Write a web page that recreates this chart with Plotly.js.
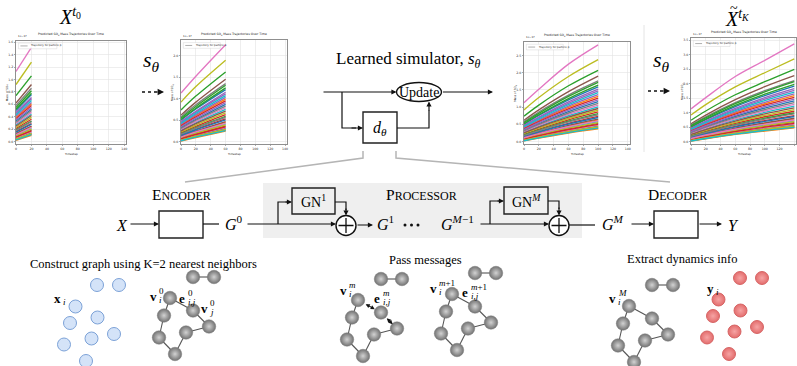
<!DOCTYPE html>
<html>
<head>
<meta charset="utf-8">
<script src="https://cdn.plot.ly/plotly-3.0.1.min.js"></script>
<style>
  html, body { margin: 0; padding: 0; background: #ffffff; }
  #chart { width: 797px; height: 366px; }
</style>
</head>
<body>
<div id="chart"></div>
<script>
// ---- rollout data: predicted SO4 mass per particle (x 1e-17) ----
const timesteps = [0, 20, 60, 100, 140];
// number of time points reached in each rollout snapshot
const snapshotSteps = [2, 3, 4, 5];
const particleMass = [
  [0.33, 0.52, 0.87, 1.16, 1.41],
  [0.12, 0.24, 0.45, 0.63, 0.78],
  [0.74, 1.06, 1.62, 2.07, 2.50],
  [0.21, 0.36, 0.63, 0.86, 1.05],
  [0.45, 0.69, 1.11, 1.47, 1.77],
  [0.62, 0.92, 1.45, 1.90, 2.28],
  [1.13, 1.52, 2.25, 2.81, 3.38],
  [0.58, 0.86, 1.35, 1.76, 2.11],
  [0.92, 1.28, 1.89, 2.38, 2.86],
  [0.27, 0.44, 0.75, 1.01, 1.23],
  [0.05, 0.14, 0.31, 0.45, 0.57],
  [0.39, 0.61, 0.99, 1.31, 1.59],
  [0.55, 0.82, 1.31, 1.72, 2.07],
  [0.16, 0.29, 0.53, 0.73, 0.90],
  [0.41, 0.63, 1.03, 1.36, 1.65],
  [0.08, 0.18, 0.37, 0.53, 0.66],
  [0.29, 0.47, 0.79, 1.06, 1.29],
  [0.035, 0.12, 0.28, 0.41, 0.525],
  [0.23, 0.39, 0.67, 0.91, 1.11],
  [0.10, 0.21, 0.41, 0.58, 0.72],
  [0.50, 0.76, 1.21, 1.59, 1.92],
  [0.03, 0.12, 0.27, 0.40, 0.51],
  [0.19, 0.33, 0.59, 0.81, 0.99],
  [0.37, 0.58, 0.95, 1.26, 1.53],
  [0.47, 0.71, 1.15, 1.52, 1.83],
  [0.13, 0.25, 0.47, 0.65, 0.81],
  [0.06, 0.16, 0.33, 0.48, 0.60],
  [0.31, 0.50, 0.83, 1.11, 1.35],
  [0.09, 0.20, 0.39, 0.55, 0.69],
  [0.43, 0.66, 1.07, 1.42, 1.71],
  [0.15, 0.28, 0.51, 0.70, 0.87],
  [0.02, 0.10, 0.25, 0.37, 0.48],
  [0.52, 0.78, 1.25, 1.64, 1.98],
  [0.07, 0.17, 0.35, 0.50, 0.63],
  [0.35, 0.55, 0.91, 1.21, 1.47],
  [0.25, 0.42, 0.71, 0.96, 1.17],
  [0.11, 0.23, 0.43, 0.60, 0.75],
  [0.18, 0.32, 0.57, 0.78, 0.96],
  [0.04, 0.13, 0.29, 0.43, 0.54],
  [0.025, 0.11, 0.26, 0.39, 0.495]
];
const timestepTicks = [0, 20, 40, 60, 80, 100, 120, 140];
const massTicks = [
  [0.0, 0.2, 0.4, 0.6, 0.8, 1.0, 1.2, 1.4, 1.6],
  [0.0, 0.5, 1.0, 1.5, 2.0],
  [0.0, 0.5, 1.0, 1.5, 2.0, 2.5],
  [0.0, 0.5, 1.0, 1.5, 2.0, 2.5, 3.0, 3.5]
];
const panelTitle = 'Predicted SO<sub>4</sub> Mass Trajectories Over Time';
const panelLegend = 'Trajectory for particle p';

// ---- particle graph templates (offsets in px from each group's origin) ----
const particleOffsetX = [0, 22, -21.5, 0.5, -27, 17, -5.5, -33, -11];
const particleOffsetY = [0, 0, 21.5, 32.5, 38, 49, 53.5, 59.5, 76];
const ringNodeX = [0, 23, 39, 16, 5, -11, -6];
const ringNodeY = [0, 12.5, 28.5, 34.5, 56, 39.5, 17.5];
const pairNodeX = [23, 44];
const pairNodeY = [-21, -21];

// ---- page geometry ----
const W = 797, H = 366;
const SERIF = 'Liberation Serif, Times New Roman, serif';
const SANS = 'DejaVu Sans, Arial, sans-serif';
const INK = '#000000';
const palette = ['#1f77b4', '#ff7f0e', '#2ca02c', '#d62728', '#9467bd',
                 '#8c564b', '#e377c2', '#7f7f7f', '#bcbd22', '#17becf'];
const panelBoxes = [
  { l: 16, r: 126.5, t: 40.5, b: 144 },
  { l: 181, r: 287.3, t: 40, b: 144 },
  { l: 524, r: 630, t: 41.7, b: 144 },
  { l: 691, r: 796.5, t: 38, b: 144 }
];
const panelYRange = [[-0.04, 1.63], [-0.05, 2.36], [-0.07, 2.9], [-0.08, 3.58]];

const traces = [];
const shapes = [];
const annotations = [];
const layout = {
  width: W, height: H,
  margin: { l: 0, r: 0, t: 0, b: 0, pad: 0 },
  paper_bgcolor: '#ffffff',
  plot_bgcolor: 'rgba(0,0,0,0)',
  showlegend: false,
  xaxis: { domain: [0, 1], range: [0, W], visible: false, fixedrange: true },
  yaxis: { domain: [0, 1], range: [H, 0], visible: false, fixedrange: true },
  shapes, annotations
};

// ---- rollout snapshot panels ----
snapshotSteps.forEach((n, p) => {
  const k = p + 2;
  const b = panelBoxes[p];
  const xa = 'x' + k, ya = 'y' + k;
  const tickFont = { family: SANS, size: 3.2, color: '#333' };
  layout['xaxis' + k] = {
    domain: [b.l / W, b.r / W], anchor: ya, range: [0, 143],
    tickvals: timestepTicks, tickfont: tickFont, ticks: 'outside', ticklen: 1.5,
    tickwidth: 0.5, tickcolor: '#555', showgrid: true, gridcolor: '#e3e3e3',
    gridwidth: 0.6, zeroline: false, showline: true, mirror: true,
    linecolor: '#444', linewidth: 0.6, fixedrange: true
  };
  layout['yaxis' + k] = {
    domain: [1 - b.b / H, 1 - b.t / H], anchor: xa, range: panelYRange[p],
    tickvals: massTicks[p], tickformat: '.1f', tickfont: tickFont,
    ticks: 'outside', ticklen: 1.5, tickwidth: 0.5, tickcolor: '#555',
    showgrid: true, gridcolor: '#e3e3e3', gridwidth: 0.6, zeroline: false,
    showline: true, mirror: true, linecolor: '#444', linewidth: 0.6, fixedrange: true
  };
  shapes.push({ type: 'rect', xref: 'paper', yref: 'paper', layer: 'below',
    x0: b.l / W, x1: b.r / W, y0: 1 - b.b / H, y1: 1 - b.t / H,
    fillcolor: '#ffffff', line: { width: 0 } });
  particleMass.forEach((row, i) => {
    traces.push({
      type: 'scatter', mode: 'lines', xaxis: xa, yaxis: ya,
      x: timesteps.slice(0, n), y: row.slice(0, n),
      line: { color: palette[i % palette.length], width: 1.35, shape: 'spline' },
      hoverinfo: 'skip', showlegend: false
    });
  });
  const dx = xa + ' domain', dy = ya + ' domain';
  const small = (size) => ({ family: SANS, size, color: '#222' });
  annotations.push(
    { xref: dx, yref: dy, x: 0.5, y: 1, yshift: 1.5, yanchor: 'bottom', xanchor: 'center',
      text: panelTitle, showarrow: false, font: small(3.1) },
    { xref: dx, yref: dy, x: 0, y: 1, yshift: 0.5, yanchor: 'bottom', xanchor: 'left',
      text: '1e\u221217', showarrow: false, font: small(2.6) },
    { xref: dx, yref: dy, x: 0, y: 0.5, xshift: -9, xanchor: 'center', yanchor: 'middle',
      textangle: -90, text: 'Mass of SO<sub>4</sub>', showarrow: false, font: small(2.8) },
    { xref: dx, yref: dy, x: 0.5, y: 0, yshift: -6, xanchor: 'center', yanchor: 'top',
      text: 'Timestep', showarrow: false, font: small(2.8) },
    { xref: dx, yref: dy, x: 0.12, y: 0.9475, xanchor: 'left', yanchor: 'middle',
      text: panelLegend, showarrow: false, font: small(2.6) }
  );
  shapes.push(
    { type: 'rect', xref: dx, yref: dy, x0: 0.022, x1: 0.37, y0: 0.92, y1: 0.975,
      fillcolor: 'rgba(255,255,255,0.85)', line: { color: '#cccccc', width: 0.4 } },
    { type: 'line', xref: dx, yref: dy, x0: 0.04, x1: 0.105, y0: 0.9475, y1: 0.9475,
      line: { color: '#9a9a9a', width: 0.8 } }
  );
});

// ---- helpers for the diagram (page pixel coordinates) ----
function label(x, y, text, size, extra) {
  annotations.push(Object.assign({
    x, y, xref: 'x', yref: 'y', text, showarrow: false,
    font: { family: SERIF, size, color: INK }, xanchor: 'center', yanchor: 'middle'
  }, extra || {}));
}
function arrow(x0, y0, x1, y1, extra) {
  annotations.push(Object.assign({
    x: x1, y: y1, ax: x0, ay: y0, xref: 'x', yref: 'y', axref: 'x', ayref: 'y',
    text: '', showarrow: true, arrowhead: 2, arrowsize: 0.85, arrowwidth: 1.2,
    arrowcolor: '#111', standoff: 0, startstandoff: 0
  }, extra || {}));
}
function path(d, color, width, layer) {
  shapes.push({ type: 'path', path: d, xref: 'x', yref: 'y', layer: layer || 'above',
    line: { color, width } });
}
function box(x0, y0, x1, y1) {
  shapes.push({ type: 'rect', xref: 'x', yref: 'y', x0, y0, x1, y1,
    line: { color: '#222', width: 1.4 }, fillcolor: 'rgba(0,0,0,0)' });
}
function oplus(cx, cy, r) {
  shapes.push({ type: 'circle', xref: 'x', yref: 'y', x0: cx - r, x1: cx + r, y0: cy - r, y1: cy + r,
    line: { color: '#111', width: 1.4 }, fillcolor: '#ffffff' });
  path(`M${cx - r + 2.5},${cy} L${cx + r - 2.5},${cy} M${cx},${cy - r + 2.5} L${cx},${cy + r - 2.5}`, '#111', 1.3);
}
// bold symbol with stacked superscript / subscript
function tensor(x, y, base, sup, sub) {
  label(x, y, `<b>${base}</b>`, 13);
  if (sup) label(x + 4, y - 5.5, sup, 9, { xanchor: 'left' });
  if (sub) label(x + 4, y + 3.5, sub, 9, { xanchor: 'left' });
}

// ---- header: state symbols and rollout arrows ----
label(70, 16, '<i>X</i><sup><i>t</i><sub>0</sub></sup>', 20);
label(737, 18, '<i>X</i><sup><i>t</i><sub><i>K</i></sub></sup>', 20);
label(734, 8, '~', 14);
[[151, 61], [661, 61]].forEach(([x, y]) => {
  label(x, y, '<i>s</i><sub><i>θ</i></sub>', 22);
});
[[142, 92], [648, 91]].forEach(([x, y]) => {
  path(`M${x},${y} L${x + 16},${y}`, '#111', 1.6);
  shapes[shapes.length - 1].line.dash = 'dot';
  arrow(x + 14, y, x + 22, y, { arrowsize: 0.8, arrowwidth: 1.6 });
});
// panel separator
path('M644,25 L644,152', '#e4e4e4', 1);

// ---- learned simulator block ----
label(408, 60, 'Learned simulator, <i>s</i><sub><i>θ</i></sub>', 17);
arrow(322, 92, 396.5, 92);
shapes.push({ type: 'circle', xref: 'x', yref: 'y', x0: 396.5, x1: 441.5, y0: 82.5, y1: 101.5,
  line: { color: '#111', width: 1.4 }, fillcolor: 'rgba(0,0,0,0)' });
label(419, 92, 'Update', 14);
arrow(441.5, 92, 493, 92);
path('M342,92 L342,128 L356,128', '#111', 1.2);
arrow(350, 128, 363, 128);
box(363, 112, 397, 143);
label(380, 128, '<i>d</i><sub><i>θ</i></sub>', 16);
path('M397,128 L429,128 L429,110', '#111', 1.2);
arrow(429, 112, 429, 101.5);
// zoom-out guides into the processor pipeline
path('M363,151 L363,158 L185,182', '#b5b5b5', 1.5);
path('M396,151 L396,158 L670,182', '#b5b5b5', 1.5);

// ---- encode / process / decode pipeline ----
shapes.push({ type: 'rect', xref: 'x', yref: 'y', layer: 'below', x0: 263, x1: 582, y0: 183, y1: 238,
  fillcolor: '#efefef', line: { width: 0 } });
const smallCaps = (first, rest) => `${first}<span style="font-size:12px">${rest}</span>`;
label(181, 194, smallCaps('E', 'NCODER'), 15.5);
label(421, 194, smallCaps('P', 'ROCESSOR'), 15.5);
label(677, 194, smallCaps('D', 'ECODER'), 15.5);

label(122, 225, '<i>X</i>', 16);
arrow(129, 224, 159, 224);
box(159, 211, 203, 238);
path('M203,224 L219,224', '#111', 1.2);
label(234, 223, '<i>G</i><sup>0</sup>', 16);
arrow(246, 224, 336, 224);
path('M278,224 L278,202 L288,202', '#111', 1.2);
arrow(284, 202, 292, 202);
box(292, 188, 335, 214);
label(313.5, 201, 'GN<sup>1</sup>', 14);
path('M335,202 L346,202 L346,210', '#111', 1.2);
arrow(346, 207, 346, 215.5);
oplus(346, 225.5, 10);
arrow(356, 225, 373, 225);
label(385, 223, '<i>G</i><sup>1</sup>', 16);
[405, 411.5, 418].forEach(x => {
  shapes.push({ type: 'circle', xref: 'x', yref: 'y', x0: x - 1.5, x1: x + 1.5, y0: 223.5, y1: 226.5,
    fillcolor: '#111', line: { width: 0 } });
});
label(457, 223, '<i>G</i><sup><i>M</i>\u22121</sup>', 16);
arrow(479, 224, 549, 224);
path('M490,224 L490,201 L500,201', '#111', 1.2);
arrow(496, 201, 504, 201);
box(504, 187, 548, 214);
label(526, 200.5, 'GN<sup><i>M</i></sup>', 14);
path('M548,201 L559,201 L559,209', '#111', 1.2);
arrow(559, 206, 559, 215.5);
oplus(559, 225.5, 10);
path('M569,225 L595,225', '#111', 1.2);
label(613, 223, '<i>G</i><sup><i>M</i></sup>', 16);
arrow(630, 224, 654, 224);
box(654, 211, 698, 238);
arrow(698, 224, 722, 224);
label(733, 225, '<i>Y</i>', 16);

// ---- bottom row: graph construction, message passing, decoding ----
label(143, 264, 'Construct graph using K=2 nearest neighbors', 12.5);
label(425, 260, 'Pass messages', 12.5);
label(682, 259, 'Extract dynamics info', 12.5);

function particleCloud(ox, oy, fill, edge, centre) {
  const marker = { size: 13, color: fill, line: { color: edge, width: 0.9 } };
  if (centre) marker.gradient = { type: 'radial', color: centre };
  traces.push({
    type: 'scatter', mode: 'markers', xaxis: 'x', yaxis: 'y',
    x: particleOffsetX.map(d => ox + d), y: particleOffsetY.map(d => oy + d),
    marker, hoverinfo: 'skip', showlegend: false
  });
}
particleCloud(97, 285, '#d4e3f8', '#6f98d3');
particleCloud(740, 278, '#e36d6d', '#d25c5c', '#f6a4a4');

const graphOrigins = [[170, 298], [358, 300], [452, 294], [629, 306]];
graphOrigins.forEach(([ox, oy], g) => {
  const rx = ringNodeX.map(d => ox + d), ry = ringNodeY.map(d => oy + d);
  const px = pairNodeX.map(d => ox + d), py = pairNodeY.map(d => oy + d);
  path(`M${px[0]},${py[0]} L${px[1]},${py[1]}`, '#555', 1.1, 'below');
  for (let i = 0; i < rx.length; i++) {
    const j = (i + 1) % rx.length;
    if (g === 1 && i < 2) {
      const t0 = 0.27, t1 = 0.73;
      arrow(rx[i] + (rx[j] - rx[i]) * t0, ry[i] + (ry[j] - ry[i]) * t0,
            rx[i] + (rx[j] - rx[i]) * t1, ry[i] + (ry[j] - ry[i]) * t1,
            { arrowside: 'end+start', arrowsize: 0.75, arrowwidth: 1.1 });
    } else {
      path(`M${rx[i]},${ry[i]} L${rx[j]},${ry[j]}`, '#555', 1.1, 'below');
    }
  }
  traces.push({
    type: 'scatter', mode: 'markers', xaxis: 'x', yaxis: 'y',
    x: rx.concat(px), y: ry.concat(py),
    marker: { size: 13.5, color: '#727272', gradient: { type: 'radial', color: '#d2d2d2' },
              line: { color: '#7a7a7a', width: 0.5 } },
    hoverinfo: 'skip', showlegend: false
  });
});

tensor(57, 298, 'x', null, '<i>i</i>');
tensor(153, 296, 'v', '0', '<i>i</i>');
tensor(182, 298, 'e', '0', '<i>i,j</i>');
tensor(204, 308, 'v', '0', '<i>j</i>');
tensor(343, 290, 'v', '<i>m</i>', '<i>i</i>');
tensor(377, 298, 'e', '<i>m</i>', '<i>i,j</i>');
tensor(433, 288, 'v', '<i>m</i>+1', '<i>i</i>');
tensor(465, 292, 'e', '<i>m</i>+1', '<i>i,j</i>');
tensor(612, 298, 'v', '<i>M</i>', '<i>i</i>');
tensor(710, 288, 'y', null, '<i>i</i>');

Plotly.newPlot('chart', traces, layout, { staticPlot: true, displayModeBar: false });
</script>
</body>
</html>
